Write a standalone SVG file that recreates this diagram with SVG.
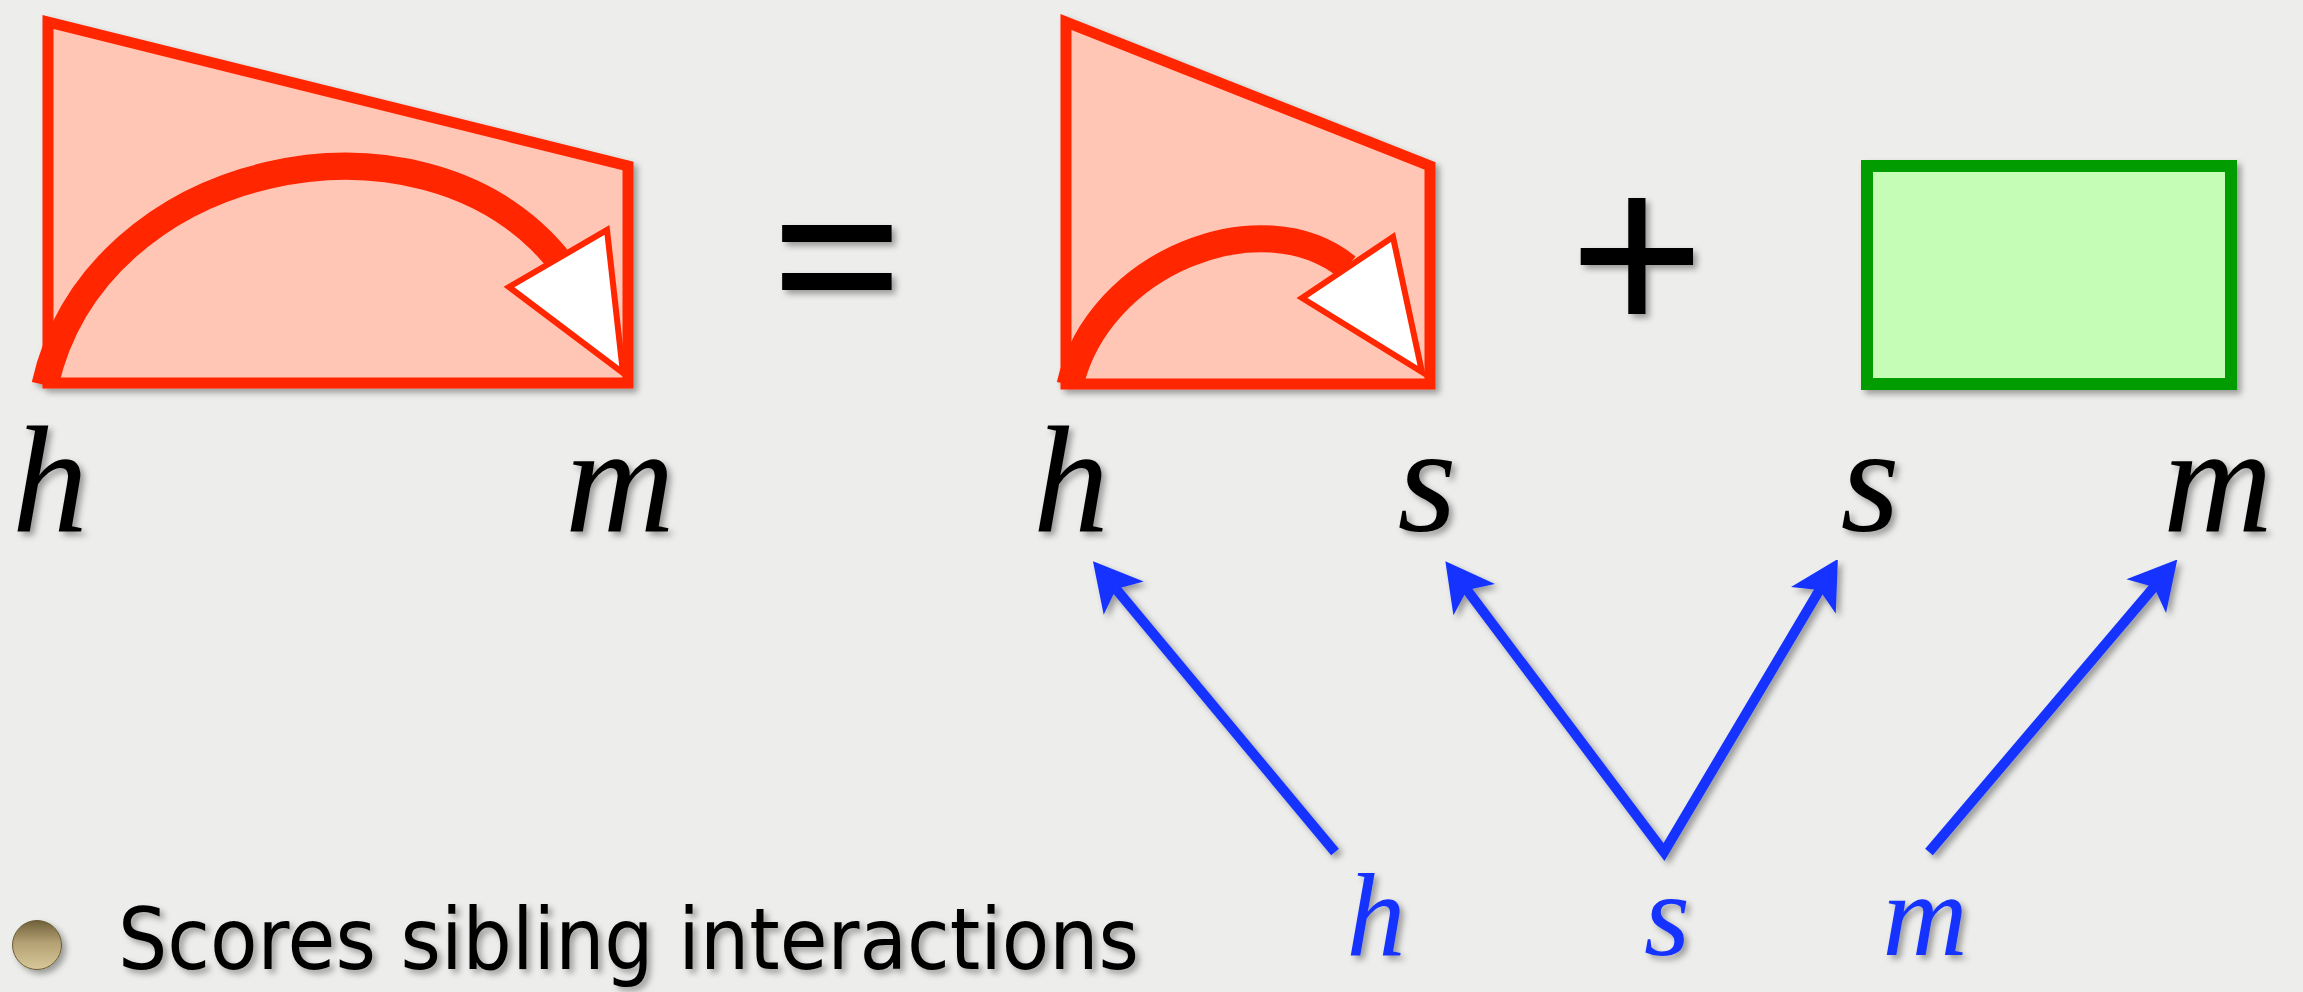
<svg xmlns="http://www.w3.org/2000/svg" width="2303" height="992" viewBox="0 0 2303 992">
  <defs>
    <filter id="sh" x="-10%" y="-10%" width="130%" height="130%">
      <feDropShadow dx="4" dy="4" stdDeviation="3" flood-color="#000" flood-opacity="0.35"/>
    </filter>
    <linearGradient id="bul" x1="0" y1="0" x2="0" y2="1">
      <stop offset="0" stop-color="#6f603a"/>
      <stop offset="0.45" stop-color="#b3a073"/>
      <stop offset="1" stop-color="#d8c89a"/>
    </linearGradient>
    <marker id="ah" markerUnits="userSpaceOnUse" markerWidth="100" markerHeight="100" viewBox="-30 -50 100 100" refX="0" refY="0" orient="auto-start-reverse" overflow="visible">
      <path d="M36,0 L-12,-26 L0,0 L-12,26 Z" fill="#1432ff"/>
    </marker>
  </defs>
  <style>
    .trap { fill: #ffc5b5; stroke: #ff2600; stroke-width: 11; stroke-linejoin: miter; }
    .arc { fill: none; stroke: #ff2600; stroke-width: 27; }
    .head { fill: #ffffff; stroke: #ff2600; stroke-width: 6; stroke-linejoin: miter; }
    .box { fill: #c6fdb6; stroke: #009c00; stroke-width: 12; }
    .var { font-family: "Liberation Serif", "Times New Roman", serif; font-style: italic; font-size: 152px; fill: #000; text-anchor: middle; }
    .bvar { font-family: "Liberation Serif", "Times New Roman", serif; font-style: italic; font-size: 118px; fill: #1432ff; text-anchor: middle; }
    .op { font-family: "Noto Sans", "DejaVu Sans", sans-serif; font-size: 239px; fill: #000; text-anchor: middle; }
    .conn { fill: none; stroke: #1432ff; stroke-width: 10; stroke-linejoin: miter; stroke-miterlimit: 10; }
    .bullet-text { font-family: "Liberation Sans Narrow", "DejaVu Sans Condensed", "DejaVu Sans", sans-serif; font-size: 86px; fill: #000; }
  </style>
  <rect x="0" y="0" width="2303" height="992" fill="#edeeeb"/>

  <g id="left-span" filter="url(#sh)">
    <polygon class="trap" points="48,22 628,166 628,383 48,383"/>
    <path class="arc" d="M45,385 C95,160 420,93 557,258"/>
    <polygon class="head" points="509,287 607,230 623,373"/>
  </g>

  <g id="equals" filter="url(#sh)">
    <text class="op" x="837" y="342">=</text>
  </g>

  <g id="middle-span" filter="url(#sh)">
    <polygon class="trap" points="1066,22 1430,166 1430,384 1066,384"/>
    <path class="arc" d="M1070,385 C1098,262 1262,198 1347,267"/>
    <polygon class="head" points="1302,298 1393,237 1422,372"/>
  </g>

  <g id="plus" filter="url(#sh)">
    <text class="op" x="1637" y="341">+</text>
  </g>

  <g id="sibling-box" filter="url(#sh)">
    <rect class="box" x="1867" y="166" width="364" height="218"/>
  </g>

  <g id="labels-top" filter="url(#sh)">
    <text class="var" x="50" y="531">h</text>
    <text class="var" x="620" y="531">m</text>
    <text class="var" x="1071" y="531">h</text>
    <text class="var" x="1427" y="531">s</text>
    <text class="var" x="1870" y="531">s</text>
    <text class="var" x="2218" y="531">m</text>
  </g>

  <g id="labels-bottom" filter="url(#sh)">
    <text id="lbl-h" class="bvar" x="1376" y="955">h</text>
    <text id="lbl-s" class="bvar" x="1667" y="955">s</text>
    <text id="lbl-m" class="bvar" x="1925" y="955">m</text>
  </g>

  <g id="connectors" filter="url(#sh)">
    <path class="conn" d="M1335,852 L1116,589" marker-end="url(#ah)"/>
    <path class="conn" d="M1467,590 L1664,852 L1819.5,590" marker-start="url(#ah)" marker-end="url(#ah)"/>
    <path class="conn" d="M1929,852 L2154,587" marker-end="url(#ah)"/>
  </g>

  <g id="bullet" filter="url(#sh)">
    <circle cx="37" cy="945" r="24.5" fill="url(#bul)" stroke="#6a5c38" stroke-width="1"/>
    <text class="bullet-text" x="118" y="969" textLength="1021" lengthAdjust="spacingAndGlyphs">Scores sibling interactions</text>
  </g>
</svg>
